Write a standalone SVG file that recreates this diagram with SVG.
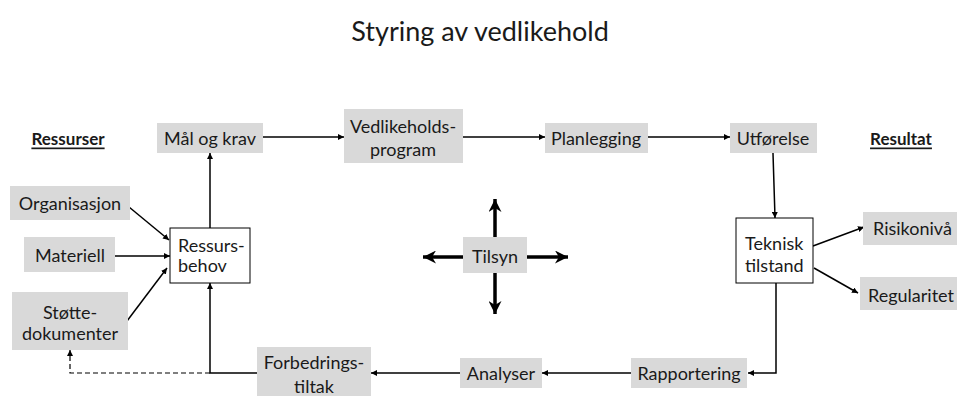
<svg xmlns="http://www.w3.org/2000/svg" width="957" height="396" viewBox="0 0 957 396">
<style>
text{font-family:Lato,"Open Sans","Liberation Sans",sans-serif;font-size:18px;fill:#1a1a1a;dominant-baseline:central}
.c{text-anchor:middle}
.g{fill:#d9d9d9}
.w{fill:#fff;stroke:#000;stroke-width:1}
.ln{fill:none;stroke:#000;stroke-width:1.5}
.th{fill:none;stroke:#000;stroke-width:3.5}
.ds{fill:none;stroke:#000;stroke-width:1.2;stroke-dasharray:5 3}
.h{font-weight:bold;text-decoration:underline;font-size:17px}
</style>
<defs>
<marker id="a" viewBox="0 0 10 10" refX="10" refY="5" markerWidth="6" markerHeight="6" markerUnits="userSpaceOnUse" orient="auto"><path d="M0,0L10,5L0,10z" fill="#000"/></marker>
<marker id="b" viewBox="0 0 10 10" refX="10" refY="5" markerWidth="13" markerHeight="13" markerUnits="userSpaceOnUse" orient="auto"><path d="M0,0L10,5L0,10L3,5z" fill="#000"/></marker>
</defs>
<text x="480" y="30" class="c" style="font-size:27px">Styring av vedlikehold</text>
<text x="68" y="138" class="c h">Ressurser</text>
<text x="901" y="138" class="c h">Resultat</text>
<g id="connectors">
<line class="ln" x1="263" y1="137" x2="344" y2="137" marker-end="url(#a)"/>
<line class="ln" x1="463" y1="137" x2="545" y2="137" marker-end="url(#a)"/>
<line class="ln" x1="648" y1="137" x2="730" y2="137" marker-end="url(#a)"/>
<line class="ln" x1="773" y1="153" x2="775" y2="218" marker-end="url(#a)"/>
<line class="ln" x1="813" y1="246" x2="864" y2="227" marker-end="url(#a)"/>
<line class="ln" x1="814" y1="268" x2="858" y2="293" marker-end="url(#a)"/>
<polyline class="ln" points="776,283 776,373 748,373" marker-end="url(#a)"/>
<line class="ln" x1="631" y1="373" x2="542" y2="373" marker-end="url(#a)"/>
<line class="ln" x1="460" y1="373" x2="371" y2="373" marker-end="url(#a)"/>
<polyline class="ln" points="257,373 210,373 210,283" marker-end="url(#a)"/>
<polyline class="ds" points="210,373 70,373 70,350" marker-end="url(#a)"/>
<line class="ln" x1="210" y1="228" x2="210" y2="153" marker-end="url(#a)"/>
<line class="ln" x1="129" y1="207" x2="169" y2="240" marker-end="url(#a)"/>
<line class="ln" x1="115" y1="256" x2="170" y2="256" marker-end="url(#a)"/>
<line class="ln" x1="127" y1="321" x2="167" y2="268" marker-end="url(#a)"/>
<line class="th" x1="495" y1="237" x2="495" y2="199" marker-end="url(#b)"/>
<line class="th" x1="495" y1="273" x2="495" y2="314" marker-end="url(#b)"/>
<line class="th" x1="463" y1="257" x2="423" y2="257" marker-end="url(#b)"/>
<line class="th" x1="527" y1="257" x2="568" y2="257" marker-end="url(#b)"/>
</g>
<g id="maal"><rect class="g" x="157" y="123" width="106" height="30"/><text x="210" y="138" class="c">Mål og krav</text></g>
<g id="vedlikeholdsprogram"><rect class="g" x="344" y="109" width="119" height="54"/><text x="403" y="126" class="c">Vedlikeholds-</text><text x="403" y="149" class="c">program</text></g>
<g id="planlegging"><rect class="g" x="545" y="123" width="103" height="30"/><text x="596" y="138" class="c">Planlegging</text></g>
<g id="utforelse"><rect class="g" x="730" y="123" width="87" height="30"/><text x="773" y="138" class="c">Utførelse</text></g>
<g id="organisasjon"><rect class="g" x="10" y="186" width="120" height="34"/><text x="70" y="203" class="c">Organisasjon</text></g>
<g id="materiell"><rect class="g" x="24" y="237" width="91" height="35"/><text x="70" y="255" class="c">Materiell</text></g>
<g id="stottedokumenter"><rect class="g" x="12" y="292" width="116" height="58"/><text x="70" y="312" class="c">Støtte-</text><text x="70" y="333" class="c">dokumenter</text></g>
<g id="ressursbehov"><rect class="w" x="170" y="228" width="80" height="55"/><text x="178" y="245">Ressurs-</text><text x="178" y="265">behov</text></g>
<g id="tilsyn"><rect class="g" x="463" y="237" width="64" height="36"/><text x="495" y="256" class="c">Tilsyn</text></g>
<g id="teknisk"><rect class="w" x="736" y="218" width="77" height="65"/><text x="745" y="243">Teknisk</text><text x="745" y="265">tilstand</text></g>
<g id="risikoniva"><rect class="g" x="863" y="212" width="94" height="33"/><text x="873" y="228">Risikonivå</text></g>
<g id="regularitet"><rect class="g" x="860" y="277" width="97" height="33"/><text x="868" y="295">Regularitet</text></g>
<g id="rapportering"><rect class="g" x="631" y="358" width="116" height="30"/><text x="689" y="373" class="c">Rapportering</text></g>
<g id="analyser"><rect class="g" x="460" y="358" width="82" height="30"/><text x="501" y="373" class="c">Analyser</text></g>
<g id="forbedringstiltak"><rect class="g" x="257" y="347" width="114" height="49"/><text x="314" y="362" class="c">Forbedrings-</text><text x="314" y="386" class="c">tiltak</text></g>
</svg>
